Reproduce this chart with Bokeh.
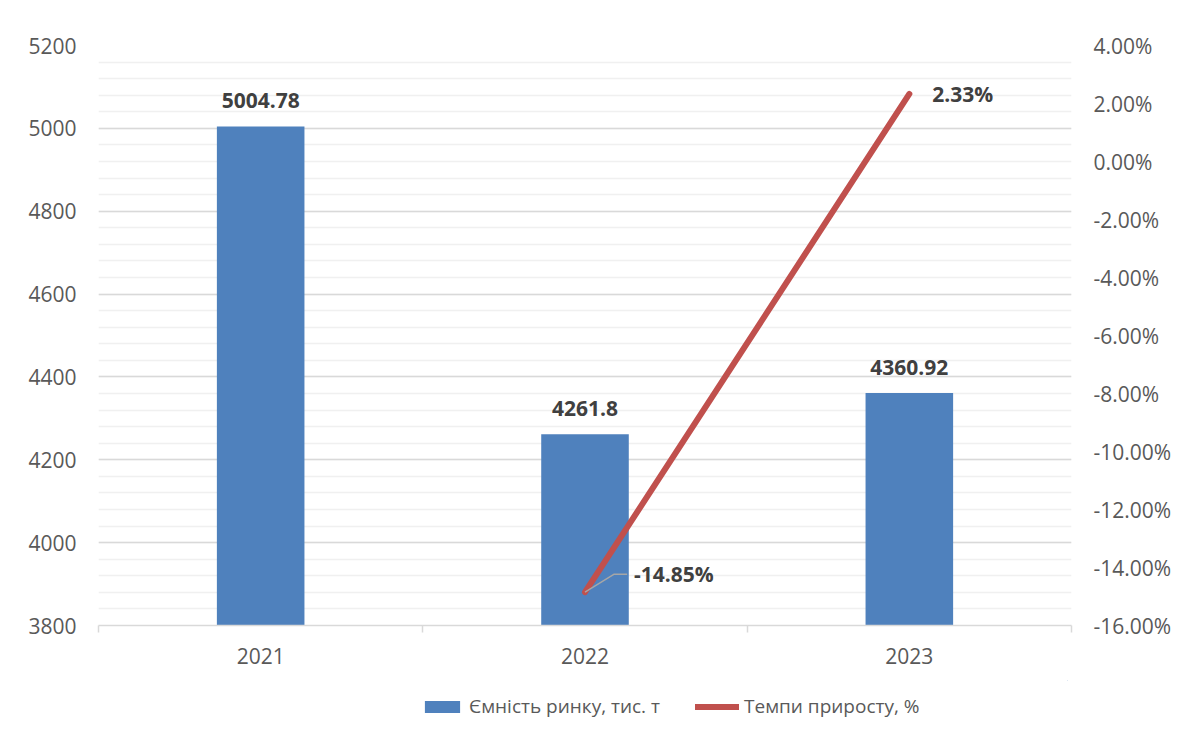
from bokeh.plotting import figure
from bokeh.layouts import column
from bokeh.models import (ColumnDataSource, Range1d, LinearAxis, FixedTicker,
                          NumeralTickFormatter, Legend, LegendItem)
from bokeh.core.properties import value
from bokeh.embed import file_html
from bokeh.resources import INLINE

years = ["2021", "2022", "2023"]
capacity = [5004.78, 4261.8, 4360.92]
capacity_labels = ["5004.78", "4261.8", "4360.92"]
growth_years = ["2022", "2023"]
growth = [-0.1485, 0.0233]
growth_labels = ["-14.85%", "2.33%"]
series_names = ["Ємність ринку, тис. т", "Темпи приросту, %"]

FONT = "Open Sans"
BAR = "#4F81BD"
LINE = "#C0504D"
TICK = "#595959"
LAB = "#404040"
GRID = "#d9d9d9"
MINOR = "#f0f0f0"

# category slot centres on a numeric x scale
pos = {y: i + 0.5 for i, y in enumerate(years)}
bar_x = [pos[y] for y in years]
growth_x = [pos[y] for y in growth_years]

p = figure(x_range=Range1d(0, len(years)), y_range=Range1d(3800, 5200),
           frame_width=973, frame_height=580,
           min_border_left=98, min_border_top=45, min_border_right=10, min_border_bottom=55,
           x_axis_location=None, output_backend="svg", toolbar_location=None)
p.outline_line_color = None
p.extra_y_ranges = {"pct": Range1d(-0.16, 0.04)}

# grid
p.xgrid.grid_line_color = None
p.ygrid.ticker = FixedTicker(ticks=list(range(3800, 5201, 200)),
                             minor_ticks=list(range(3800, 5201, 40)))
p.ygrid.grid_line_color = GRID
p.ygrid.grid_line_width = 1.5
p.ygrid.minor_grid_line_color = MINOR
p.ygrid.minor_grid_line_width = 1.5

# left axis
la = p.yaxis[0]
la.ticker = FixedTicker(ticks=list(range(3800, 5201, 200)))
la.axis_line_color = None
la.major_tick_line_color = None
la.minor_tick_line_color = None
la.major_label_standoff = 16
la.major_label_text_font = FONT
la.major_label_text_font_size = "21px"
la.major_label_text_color = TICK

# right axis
ra = LinearAxis(y_range_name="pct",
                ticker=FixedTicker(ticks=[round(-0.16 + 0.02 * i, 4) for i in range(11)]),
                formatter=NumeralTickFormatter(format="0.00%"))
ra.axis_line_color = None
ra.major_tick_line_color = None
ra.minor_tick_line_color = None
ra.major_label_standoff = 16
ra.major_label_text_font = FONT
ra.major_label_text_font_size = "21px"
ra.major_label_text_color = TICK
p.add_layout(ra, "right")

# bottom axis: labels at slot centres, tick marks at slot boundaries
xa = LinearAxis(ticker=FixedTicker(ticks=bar_x, minor_ticks=list(range(len(years) + 1))))
xa.major_label_overrides = {pos[y]: y for y in years}
xa.major_tick_line_color = None
xa.major_tick_out = 0
xa.major_tick_in = 0
xa.minor_tick_in = 0
xa.minor_tick_out = 7
xa.minor_tick_line_color = GRID
xa.minor_tick_line_width = 1.5
xa.axis_line_color = GRID
xa.axis_line_width = 1.5
xa.major_label_standoff = 15
xa.major_label_text_font = FONT
xa.major_label_text_font_size = "21px"
xa.major_label_text_color = TICK
p.add_layout(xa, "below")

# bars
bsrc = ColumnDataSource(dict(x=bar_x, y=capacity, lab=capacity_labels))
p.vbar(x="x", top="y", bottom=3800, width=0.27, source=bsrc, fill_color=BAR, line_color=None)
p.text(x="x", y="y", text="lab", source=bsrc, text_align="center", text_baseline="alphabetic",
       y_offset=-26, text_font=value(FONT), text_font_size="21px", text_font_style="bold",
       text_color=LAB)

# line
lsrc = ColumnDataSource(dict(x=growth_x, y=growth, lab=growth_labels))
p.line(x="x", y="y", source=lsrc, y_range_name="pct", line_color=LINE, line_width=6,
       line_cap="round")

# leader line for first label (offsets from the point)
lx, ly = growth_x[0], growth[0]
p.line(x=[lx, lx + 0.09, lx + 0.13], y=[ly, ly + 0.0062, ly + 0.0062], y_range_name="pct",
       line_color="#a6a6a6", line_width=1.5)
first = ColumnDataSource(dict(x=growth_x[:1], y=growth[:1], lab=growth_labels[:1]))
p.text(x="x", y="y", text="lab", source=first, y_range_name="pct", x_offset=49, y_offset=-18,
       text_align="left", text_baseline="middle", text_font=value(FONT), text_font_size="21px",
       text_font_style="bold", text_color=LAB)
last = ColumnDataSource(dict(x=growth_x[1:], y=growth[1:], lab=growth_labels[1:]))
p.text(x="x", y="y", text="lab", source=last, y_range_name="pct", x_offset=23, y_offset=0,
       text_align="left", text_baseline="middle", text_font=value(FONT), text_font_size="21px",
       text_font_style="bold", text_color=LAB)

# legend strip: same series drawn out of view, only the legend is visible
lg = figure(x_range=Range1d(-10, -9), y_range=Range1d(-10, -9), width=1170, height=52,
            min_border=0, x_axis_location=None, y_axis_location=None,
            output_backend="svg", toolbar_location=None)
lg.outline_line_color = None
lg.xgrid.grid_line_color = None
lg.ygrid.grid_line_color = None
lb = lg.vbar(x="x", top="y", bottom=3800, width=0.27, source=bsrc, fill_color=BAR, line_color=None)
ll = lg.line(x="x", y="y", source=lsrc, line_color=LINE, line_width=6, line_cap="round")

legend = Legend(items=[LegendItem(label=series_names[0], renderers=[lb]),
                       LegendItem(label=series_names[1], renderers=[ll])],
                orientation="horizontal", location=(322, 13))
legend.border_line_color = None
legend.background_fill_alpha = 0
legend.label_text_font = FONT
legend.label_text_font_size = "19px"
legend.label_text_color = TICK
legend.glyph_width = 44
legend.glyph_height = 15
legend.label_standoff = 5
legend.spacing = 35
legend.padding = 0
legend.margin = 0
lg.add_layout(legend, "center")

layout = column(p, lg, spacing=0)
open("out.html", "w").write(file_html(layout, INLINE))
